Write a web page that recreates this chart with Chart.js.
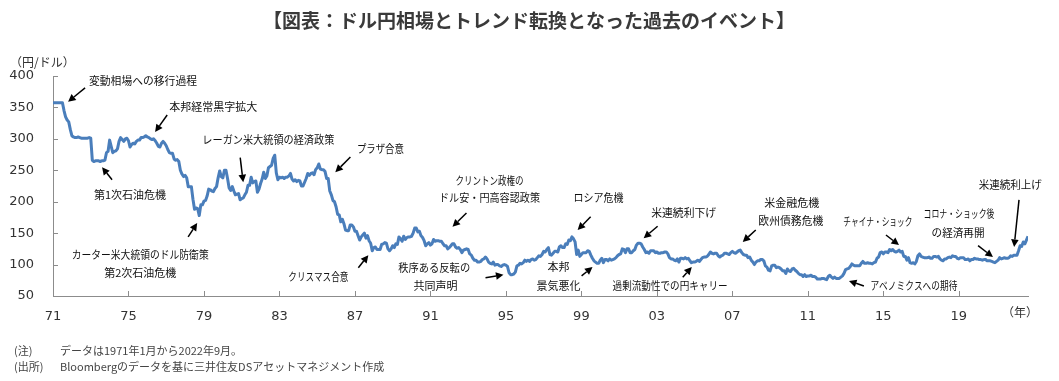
<!DOCTYPE html>
<html><head><meta charset="utf-8">
<script src="https://cdn.jsdelivr.net/npm/chart.js@4/dist/chart.umd.min.js"></script>
<style>html,body{margin:0;padding:0;background:#fff;}#wrap{position:relative;width:1059px;height:381px;}</style>
</head><body><div id="wrap"><canvas id="c" width="1059" height="381"></canvas></div>
<script>
// ---- DATA (USD/JPY, monthly, Jan 1971 - Sep 2022) ----
const startYear = 1971;
const rate1970s = [
  357.5,357.5,357.5,357.5,357.5,357.5,357.5,345,335,330,327,315,   // 1971
  305,303,302,302,303,302,301,301,301,301,301,302,                 // 1972
  301,266,264,265,265,265,264,265,265,266,278,280,                 // 1973
  298,288,278,280,281,284,296,302,299,296,300,301,                 // 1974
  297,287,291,293,292,296,298,298,302,302,303,305,                 // 1975
  303,302,300,299,300,297,293,288,287,293,296,293,                 // 1976
  289,283,278,277,277,268,266,267,264,250,244,240,                 // 1977
  242,238,224,224,224,204,188,190,189,178,195,195,                 // 1978
  201,202,209,220,219,217,216,221,224,238,249,240                  // 1979
];
const rate1980s = [
  238,250,250,237,222,218,224,217,211,212,213,203,
  205,206,211,215,226,226,239,230,232,233,215,220,
  229,236,247,237,241,254,256,258,269,274,246,235,
  239,238,239,237,239,239,241,245,236,233,235,232,
  234,233,225,225,231,237,245,242,245,246,243,251,
  254,260,252,251,251,248,237,237,217,211,202,200,
  192,180,179,168,172,165,155,154,154,163,163,160,
  153,153,146,139,144,147,150,142,146,138,134,122,
  127,128,124,124,124,132,133,135,134,125,122,125,
  130,127,133,132,144,141,137,145,140,143,144,144
];
const rate1990s = [
  145,150,158,158,152,153,146,143,138,130,133,135,
  131,133,140,137,138,138,137,137,133,130,130,125,
  127,130,133,133,128,126,127,124,119,123,124,125,
  124,117,115,110,107,107,104,104,105,108,109,112,
  109,104,102,101,104,99,100,100,98,97,99,100,
  99,97,87,84,84,85,88,98,99,102,101,103,
  107,105,107,105,108,109,107,108,111,114,113,116,
  121,120,124,127,116,115,118,121,121,120,128,130,
  127,127,133,132,139,138,144,141,136,116,123,113,
  116,119,119,119,122,121,115,110,106,104,102,102
];
const rate2000s = [
  107,110,103,108,108,106,109,107,108,109,111,114,
  116,117,125,124,119,125,125,119,119,122,124,131,
  134,134,133,128,124,119,120,118,122,122,122,119,
  120,118,118,119,119,120,120,117,111,109,109,107,
  106,109,104,110,110,109,111,109,110,106,103,104,
  104,105,107,105,108,111,112,112,113,116,120,118,
  117,118,118,114,112,114,115,118,118,117,116,119,
  121,119,118,120,122,123,119,116,115,115,111,112,
  107,104,100,104,106,106,108,108,106,98,96,91,
  90,98,99,99,95,96,95,93,90,90,86,93
];
const rate2010s = [
  90,89,93,94,91,89,86,84,84,81,84,81,
  82,82,83,81,81,80,77,77,77,78,78,77,
  76,81,83,80,78,80,78,78,78,80,82,86,
  92,93,94,97,101,99,98,98,98,98,102,105,
  102,102,103,102,102,101,103,104,110,112,119,120,
  117,120,120,119,124,122,124,121,120,121,123,120,
  121,113,113,107,111,103,102,103,101,105,114,117,
  113,112,111,111,111,112,110,110,113,113,112,113,
  109,107,106,109,109,111,112,111,114,113,113,110,
  109,111,111,111,108,108,109,106,108,108,110,109
];
const rate2020s = [
  109,108,108,107,108,108,106,106,106,105,104,103,
  105,107,111,109,110,111,110,110,111,114,113,115,
  115,115,122,130,129,136,133,139,145
];
const tickYears  = [1971,1975,1979,1983,1987,1991,1995,1999,2003,2007,2011,2015,2019];
const tickLabels = ['71','75','79','83','87','91','95','99','03','07','11','15','19'];
const yTicks = [50,100,150,200,250,300,350,400];

// ---- Annotations: [text, year, yen, max text width] ----
const noteTexts = [
  ['変動相場への移行過程', 1975.77, 392, 108],
  ['本邦経常黒字拡大', 1979.49, 351, 90],
  ['レーガン米大統領の経済政策', 1982.41, 298, 132],
  ['プラザ合意', 1988.35, 284, 47],
  ['第1次石油危機', 1975.08, 211, 72],
  ['カーター米大統領のドル防衛策', 1975.62, 115, 137],
  ['第2次石油危機', 1975.62, 87, 72],
  ['クリスマス合意', 1985.06, 80, 60],
  ['クリントン政権の', 1994.13, 233, 68],
  ['ドル安・円高容認政策', 1994.13, 206, 101],
  ['秩序ある反転の', 1991.2, 95, 72],
  ['共同声明', 1991.27, 67, 44],
  ['ロシア危機', 1999.91, 206, 50],
  ['本邦', 1997.79, 96, 22],
  ['景気悪化', 1997.79, 67, 44],
  ['米連続利下げ', 2004.42, 182, 65],
  ['過剰流動性での円キャリー', 2003.7, 67, 115],
  ['米金融危機', 2010.15, 198, 55],
  ['欧州債務危機', 2010.1, 169, 65],
  ['チャイナ・ショック', 2014.71, 168, 69],
  ['アベノミクスへの期待', 2016.62, 66, 87],
  ['コロナ・ショック後', 2019.01, 180, 71],
  ['の経済再開', 2018.96, 150, 53],
  ['米連続利上げ', 2021.72, 227, 63]
];
const noteArrows = [
  [1972.70,381, 1971.80,359],
  [1977.05,338, 1976.41,311],
  [1980.92,270, 1981.08,231],
  [1986.76,271, 1985.96,247],
  [1974.13,235, 1973.60,255],
  [1978.16,144, 1978.64,166],
  [1987.18,95, 1987.71,115],
  [1992.91,182, 1992.17,160],
  [1993.92,79, 1994.87,84],
  [1999.49,176, 1998.80,155],
  [1999.01,82, 1999.59,96],
  [2003.04,161, 2002.30,142],
  [2004.37,80, 2004.85,96],
  [2008.24,155, 2007.55,136],
  [2013.97,66, 2013.18,74],
  [2015.14,147, 2015.83,131],
  [2020.02,130, 2020.81,112],
  [2022.19,203, 2021.93,128]
];

// ---- build points ----
const allRates = [].concat(rate1970s, rate1980s, rate1990s, rate2000s, rate2010s, rate2020s);
const points = allRates.map((v, i) => ({x: startYear + i / 12, y: v}));
const lastX = startYear + (allRates.length - 1) / 12;

const JP = '"Noto Sans CJK JP", "Noto Sans", sans-serif';
const NUM = '"DejaVu Sans", Verdana, sans-serif';

const decorPlugin = {
  id: 'decor',
  afterDraw(chart) {
    const ctx = chart.ctx;
    const xs = chart.scales.x, ys = chart.scales.y;
    const area = chart.chartArea;
    ctx.save();
    // inner tick marks
    ctx.strokeStyle = '#8c8c8c'; ctx.lineWidth = 1;
    tickYears.forEach(v => {
      const px = Math.round(xs.getPixelForValue(v)) + 0.5;
      ctx.beginPath(); ctx.moveTo(px, area.bottom); ctx.lineTo(px, area.bottom - 5); ctx.stroke();
    });
    yTicks.forEach(v => {
      const py = Math.round(ys.getPixelForValue(v)) + 0.5;
      ctx.beginPath(); ctx.moveTo(area.left, py); ctx.lineTo(area.left + 5, py); ctx.stroke();
    });
    // annotation texts
    ctx.fillStyle = '#111';
    ctx.font = '11px ' + JP;
    ctx.textAlign = 'center'; ctx.textBaseline = 'middle';
    noteTexts.forEach(([t, yr, v, w]) => {
      ctx.fillText(t, xs.getPixelForValue(yr), ys.getPixelForValue(v), w);
    });
    // arrows
    ctx.strokeStyle = '#000'; ctx.fillStyle = '#000'; ctx.lineWidth = 1.5;
    noteArrows.forEach(([x1, y1, x2, y2]) => {
      const ax = xs.getPixelForValue(x1), ay = ys.getPixelForValue(y1);
      const bx = xs.getPixelForValue(x2), by = ys.getPixelForValue(y2);
      const ang = Math.atan2(by - ay, bx - ax);
      const hl = 7.5, hw = 3.8;
      const ex = bx - hl * Math.cos(ang), ey = by - hl * Math.sin(ang);
      ctx.beginPath(); ctx.moveTo(ax, ay); ctx.lineTo(ex, ey); ctx.stroke();
      ctx.beginPath();
      ctx.moveTo(bx, by);
      ctx.lineTo(ex + hw * Math.sin(ang), ey - hw * Math.cos(ang));
      ctx.lineTo(ex - hw * Math.sin(ang), ey + hw * Math.cos(ang));
      ctx.closePath(); ctx.fill();
    });
    // title
    ctx.fillStyle = '#3a3a3a';
    ctx.font = 'bold 19px ' + JP;
    ctx.textAlign = 'center'; ctx.textBaseline = 'middle';
    ctx.fillText('【図表：ドル円相場とトレンド転換となった過去のイベント】', 529, 21);
    // unit labels
    ctx.fillStyle = '#333';
    ctx.font = '12px ' + JP;
    ctx.textAlign = 'left';
    ctx.fillText('（円/ドル）', 10, 62);
    ctx.fillText('（年）', 1002, 312);
    // footnotes
    ctx.font = '11px ' + JP;
    ctx.fillStyle = '#444';
    ctx.fillText('(注)', 14, 351);
    ctx.fillText('データは1971年1月から2022年9月。', 60, 351);
    ctx.fillText('(出所)', 14, 367);
    ctx.fillText('Bloombergのデータを基に三井住友DSアセットマネジメント作成', 60, 367);
    ctx.restore();
  }
};

new Chart(document.getElementById('c'), {
  type: 'line',
  data: {
    datasets: [{
      data: points,
      borderColor: '#4A7EBB',
      borderWidth: 3,
      pointRadius: 0,
      tension: 0,
      fill: false,
      borderJoinStyle: 'round'
    }]
  },
  options: {
    responsive: false,
    animation: false,
    layout: {padding: {left: 0, right: 31, top: 76, bottom: 0}},
    plugins: {legend: {display: false}, tooltip: {enabled: false}, title: {display: false}},
    scales: {
      x: {
        type: 'linear',
        min: startYear,
        max: lastX,
        afterBuildTicks: s => { s.ticks = tickYears.map(v => ({value: v})); },
        afterFit: s => { s.height = 85; },
        grid: {display: false},
        border: {display: true, color: '#8c8c8c', width: 1},
        ticks: {
          autoSkip: false, maxRotation: 0, padding: 5,
          color: '#333', font: {family: NUM, size: 13},
          callback: (v, i) => tickLabels[i]
        }
      },
      y: {
        min: 50, max: 400,
        afterBuildTicks: s => { s.ticks = yTicks.map(v => ({value: v})); },
        afterFit: s => { s.width = 53; },
        grid: {display: false},
        border: {display: true, color: '#8c8c8c', width: 1},
        ticks: {
          padding: 11, color: '#333', font: {family: NUM, size: 13},
          callback: v => String(v)
        }
      }
    }
  },
  plugins: [decorPlugin]
});
</script>
</body></html>
